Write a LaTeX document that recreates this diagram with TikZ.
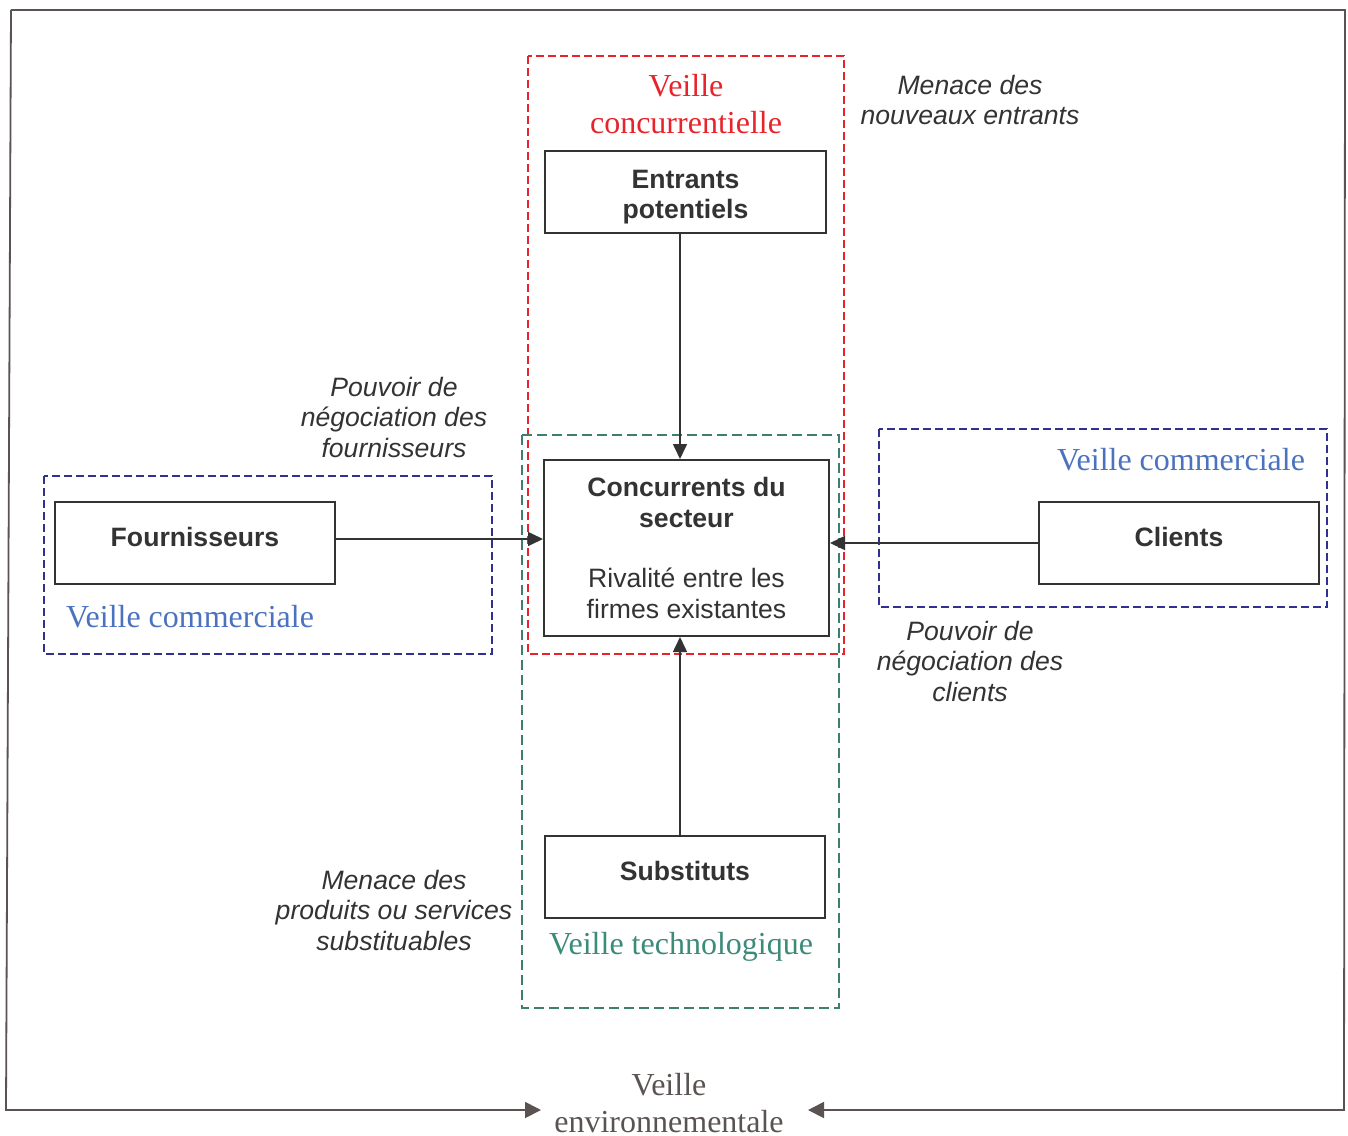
\documentclass[tikz,border=0pt]{standalone}
\usepackage{fontspec}
\setmainfont{Liberation Serif}
\setsansfont{Liberation Sans}
\usetikzlibrary{arrows.meta}
\definecolor{ink}{HTML}{333333}
\definecolor{framegray}{HTML}{5A5352}
\definecolor{vred}{HTML}{E8232B}
\definecolor{vblue}{HTML}{4A72BE}
\definecolor{vnavy}{HTML}{2E3192}
\definecolor{vgreenline}{HTML}{3D7F6E}
\definecolor{vgreen}{HTML}{3C8A78}
\begin{document}
\begin{tikzpicture}[x=0.5pt,y=-0.5pt,
  box/.style={draw=ink, line width=1pt, fill=white, text=ink, align=center, inner sep=0pt,
    minimum width=140pt, minimum height=41pt,
    font=\sffamily\bfseries\fontsize{13.3}{15.2}\selectfont},
  note/.style={text=ink, align=center, inner sep=0pt,
    font=\sffamily\itshape\fontsize{13.3}{15.25}\selectfont},
  veille/.style={align=center, inner sep=0pt, font=\fontsize{16}{18.5}\selectfont},
  zone/.style={line width=0.85pt, dash pattern=on 4pt off 2pt},
  arr/.style={draw=ink, line width=0.8pt, -{Triangle[length=7.5pt,width=7pt]}},
  frame/.style={draw=framegray, line width=0.9pt, line join=miter, -{Triangle[length=8pt,width=8pt]}}
]
\useasboundingbox (0,0) rectangle (1348,1135);

% watch zones (dashed)
\draw[zone, draw=vred] (528,56) rectangle (844,654);
\draw[zone, draw=vgreenline, dash pattern=on 5pt off 2.5pt] (522,435) rectangle (839,1008);
\draw[zone, draw=vnavy] (44,476) rectangle (492,654);
\draw[zone, draw=vnavy] (879,429) rectangle (1327,607);

% the five forces
\node[box, minimum width=140.5pt, text height=29.2pt] (entrants) at (685.5,192) {Entrants\\potentiels};
\node[box, minimum width=142.5pt, minimum height=88pt] (conc) at (686.5,548)
  {Concurrents du\\secteur\\[15pt]\mdseries Rivalité entre les\\\mdseries firmes existantes};
\node[box, text depth=6pt] (four) at (195,543) {Fournisseurs};
\node[box, text depth=6pt] (cli) at (1179,543) {Clients};
\node[box, text depth=6pt] (sub) at (685,877) {Substituts};

% forces acting on the sector
\draw[arr] ([xshift=-2.75pt]entrants.south) -- ([xshift=-2.75pt]entrants.south |- conc.north);
\draw[arr] ([xshift=-2.5pt]sub.north) -- ([xshift=-2.5pt]sub.north |- conc.south);
\draw[arr] ([yshift=2pt]four.east) -- ([yshift=2pt]four.east -| conc.west);
\draw[arr] (cli.west) -- (cli.west -| conc.east);

% force labels
\node[note] (nEntrants) at (970,100) {Menace des\\nouveaux entrants};
\node[note] (nFour) at (394,417) {Pouvoir de\\négociation des\\fournisseurs};
\node[note] (nCli) at (970,661) {Pouvoir de\\négociation des\\clients};
\node[note] (nSub) at (394,910) {Menace des\\produits ou services\\substituables};

% watch labels
\node[veille, text=vred] (vConc) at (686,104) {Veille\\concurrentielle};
\node[veille, text=vblue] (vComL) at (190,617) {Veille commerciale};
\node[veille, text=vblue] (vComR) at (1181,460) {Veille commerciale};
\node[veille, text=vgreen] (vTech) at (681,947) {Veille technologique};
\node[veille, text=framegray] (vEnv) at (669,1103) {Veille\\environnementale};

% environmental frame
\coordinate (tl) at (11,10);
\coordinate (tr) at (1345,10);
\coordinate (bl) at (6,1110);
\coordinate (br) at (1344,1110);
\coordinate (envL) at (541,1110);
\coordinate (envR) at (808,1110);
\draw[frame] (tl) -- (bl) -- (envL);
\draw[frame] (tl) -- (tr) -- (br) -- (envR);
\end{tikzpicture}
\end{document}
